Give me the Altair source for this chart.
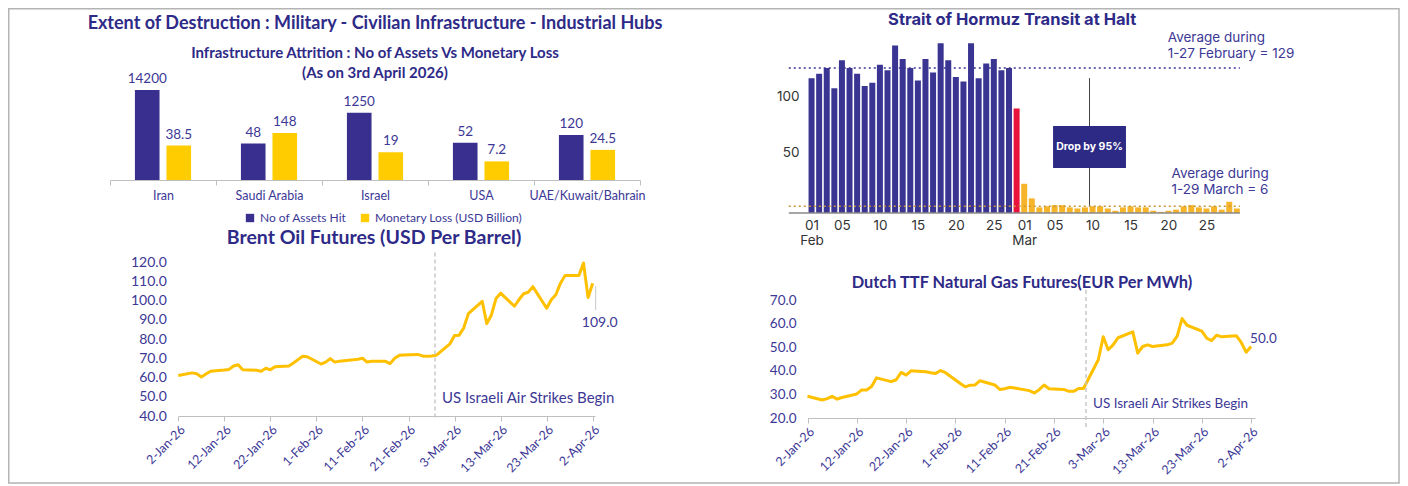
import json
import altair as alt
import pandas as pd

# ---------------- colours / fonts ----------------
NAVY_T = "#2E2A87"
NAVY_L = "#3C3896"
BAR_NAVY = "#382F8F"
YELLOW = "#FFCC00"
LINE_Y = "#FFC000"
H_NAVY = "#3A3592"
H_RED = "#E8143C"
H_ORANGE = "#F6B42A"
FONT_A = "Lato"
FONT_H = "Inter"

# ---------------- data: infrastructure attrition ----------------
countries = ["Iran", "Saudi Arabia", "Israel", "USA", "UAE/Kuwait/Bahrain"]
series_names = ["No of Assets Hit", "Monetary Loss (USD Billion)"]
assets_hit = [14200, 48, 1250, 52, 120]
monetary_loss = [38.5, 148, 19, 7.2, 24.5]
assets_labels = ["14200", "48", "1250", "52", "120"]
loss_labels = ["38.5", "148", "19", "7.2", "24.5"]

# ---------------- data: Brent ----------------
brent_dates = ["2026-01-02", "2026-01-05", "2026-01-06", "2026-01-07", "2026-01-08", "2026-01-09",
               "2026-01-12", "2026-01-13", "2026-01-14", "2026-01-15", "2026-01-16",
               "2026-01-19", "2026-01-20", "2026-01-21", "2026-01-22", "2026-01-23",
               "2026-01-26", "2026-01-27", "2026-01-28", "2026-01-29", "2026-01-30",
               "2026-02-02", "2026-02-03", "2026-02-04", "2026-02-05", "2026-02-06",
               "2026-02-09", "2026-02-10", "2026-02-11", "2026-02-12", "2026-02-13",
               "2026-02-16", "2026-02-17", "2026-02-18", "2026-02-19", "2026-02-20",
               "2026-02-23", "2026-02-24", "2026-02-25", "2026-02-26", "2026-02-27",
               "2026-03-02", "2026-03-03", "2026-03-04", "2026-03-05", "2026-03-06",
               "2026-03-09", "2026-03-10", "2026-03-11", "2026-03-12", "2026-03-13",
               "2026-03-16", "2026-03-17", "2026-03-18", "2026-03-19", "2026-03-20",
               "2026-03-23", "2026-03-24", "2026-03-25", "2026-03-26", "2026-03-27",
               "2026-03-30", "2026-03-31", "2026-04-01", "2026-04-02"]
brent_prices = [61.0, 62.4, 62.0, 60.3, 61.8, 63.3,
                63.9, 64.2, 66.0, 66.6, 64.0,
                63.8, 63.2, 64.8, 64.0, 65.6,
                66.0, 67.5, 69.3, 71.0, 70.8,
                67.0, 68.0, 69.8, 68.0, 68.5,
                69.2, 69.5, 70.0, 68.0, 68.4,
                68.4, 67.2, 70.0, 71.5, 71.7,
                72.0, 71.2, 71.0, 71.2, 71.5,
                77.5, 81.8, 82.0, 85.8, 93.2,
                99.6, 88.0, 92.5, 101.0, 103.8,
                97.0, 100.5, 103.5, 104.3, 107.2,
                96.0, 100.4, 103.0, 109.0, 113.0,
                113.0, 119.5, 101.5, 109.0]
brent_ticks = ["2026-01-02", "2026-01-12", "2026-01-22", "2026-02-01", "2026-02-11",
               "2026-02-21", "2026-03-03", "2026-03-13", "2026-03-23", "2026-04-02"]
brent_y_ticks = [40, 50, 60, 70, 80, 90, 100, 110, 120]
brent_event = "2026-02-26T18:00:00Z"
brent_last_label = "109.0"

# ---------------- data: TTF ----------------
ttf_dates = brent_dates
ttf_prices = [29.2, 27.6, 28.2, 29.2, 28.0, 28.7,
              30.2, 31.9, 31.9, 33.3, 37.0,
              35.4, 36.2, 39.3, 38.2, 40.0,
              39.6, 39.2, 38.9, 40.1, 39.2,
              34.6, 33.2, 33.9, 34.0, 35.8,
              34.0, 32.1, 32.4, 33.0, 32.7,
              31.6, 30.6, 32.0, 34.0, 32.4,
              32.1, 31.3, 31.3, 32.5, 32.5,
              44.7, 54.4, 48.9, 51.0, 54.0,
              56.5, 47.5, 50.3, 51.0, 50.3,
              51.0, 51.7, 54.7, 62.1, 59.3,
              56.8, 53.8, 52.8, 55.1, 54.4,
              54.9, 52.0, 47.9, 50.3]
ttf_y_ticks = [20, 30, 40, 50, 60, 70]
ttf_event = "2026-02-27T12:00:00Z"
ttf_last_label = "50.0"
event_text = "US Israeli Air Strikes Begin"

# ---------------- data: Strait of Hormuz ----------------
feb_transits = [120, 124, 129, 111, 136, 129, 124, 113, 116, 132, 127, 149, 137, 129,
                118, 137, 125, 151, 136, 121, 117, 151, 120, 133, 137, 127, 129]
feb28_transit = [93]
mar_transits = [26, 13, 5, 6, 7, 7, 5, 4, 5, 6, 6, 4, 2, 5, 6, 5, 5, 2, 1, 2, 3,
                6, 7, 5, 4, 6, 3, 10, 4]
period_names = ["1-27 Feb", "28 Feb", "1-29 Mar"]
hormuz_tick_pos = [0, 4, 9, 14, 19, 24, 28, 32, 37, 42, 47, 52]
hormuz_tick_labels = [["01", "Feb"], ["05"], ["10"], ["15"], ["20"], ["25"],
                      ["01", "Mar"], ["05"], ["10"], ["15"], ["20"], ["25"]]
feb_avg = 129
mar_avg = 6
feb_avg_text = "Average during\n1-27 February = 129"
mar_avg_text = "Average during\n1-29 March = 6"
drop_text = "Drop by 95%"


def utc(s):
    t = pd.Timestamp(s)
    return alt.DateTime(year=t.year, month=t.month, date=t.day, hours=t.hour, utc=True)


# =============== Panel A: bar chart (log scale) ===============
dfA = pd.DataFrame({
    "country": countries * 2,
    "series": [series_names[0]] * 5 + [series_names[1]] * 5,
    "value": assets_hit + monetary_loss,
    "label": assets_labels + loss_labels,
})
xA = alt.X("country:N", sort=countries, title=None,
           scale=alt.Scale(paddingInner=0, paddingOuter=0),
           axis=alt.Axis(labelAngle=0, labelFont=FONT_A, labelFontSize=12.5, labelColor=NAVY_L,
                         domainColor="#BFBFBF", tickColor="#BFBFBF", tickBand="extent",
                         tickSize=5, labelPadding=4, labelOverlap=False))
xoA = alt.XOffset("series:N", sort=series_names,
                  scale=alt.Scale(paddingInner=0.22, paddingOuter=0.79))
yA = alt.Y("value:Q", stack=None, axis=None,
           scale=alt.Scale(type="log", domain=[1, 4.8e6], nice=False))
barsA = alt.Chart(dfA).mark_bar().encode(
    x=xA, xOffset=xoA, y=yA,
    color=alt.Color("series:N", sort=series_names,
                    scale=alt.Scale(domain=series_names, range=[BAR_NAVY, YELLOW]),
                    legend=alt.Legend(title=None, orient="none", legendX=134, legendY=177,
                                      direction="horizontal", symbolType="square",
                                      symbolSize=70, symbolStrokeWidth=0,
                                      labelFont=FONT_A, labelFontSize=12,
                                      labelColor=NAVY_L, columnPadding=12)))
labelsA = alt.Chart(dfA).mark_text(baseline="bottom", dy=-4, font=FONT_A, fontSize=13.5,
                                   color=NAVY_L).encode(x=xA, xOffset=xoA, y=yA, text="label:N")
frame = alt.Chart(pd.DataFrame({"k": [0]})).mark_rect(
    fill="transparent", stroke="#B4B4B4", strokeWidth=1.5).encode(
    x=alt.value(-101.25), x2=alt.value(1289), y=alt.value(-26.25), y2=alt.value(448))
A = alt.layer(frame, barsA, labelsA).properties(
    width=530, height=145,
    title=alt.TitleParams(
        text="Extent of Destruction : Military - Civilian Infrastructure - Industrial Hubs",
        subtitle=["Infrastructure Attrition : No of Assets Vs Monetary Loss", "(As on 3rd April 2026)"],
        font=FONT_A, fontSize=18, fontWeight="bold", color=NAVY_T,
        subtitleFont=FONT_A, subtitleFontSize=15, subtitleFontWeight="bold",
        subtitleColor=NAVY_T, subtitlePadding=13, subtitleLineHeight=20,
        anchor="middle", frame="group", offset=-73))


# =============== line panels ===============
def line_panel(dates, prices, ticks, yticks, y_domain, x_end, x_range, y_range, width, height,
               y_offset, label_pad, label_size, ev_size, event, ev_y, ev_text_y, last_label,
               last_dx, last_dy, leader, title, t_size, t_offset, t_dx, xlab_size):
    df = pd.DataFrame({"date": [d + "T00:00:00Z" for d in dates], "price": prices})
    xs = alt.Scale(type="utc", domain=[utc(dates[0]), utc(x_end)], range=x_range)
    if y_range is not None:
        ys = alt.Scale(domain=y_domain, nice=False, zero=False, range=y_range)
    else:
        ys = alt.Scale(domain=y_domain, nice=False, zero=False)
    xax = alt.Axis(values=[utc(t) for t in ticks], format="%-d-%b-%y", labelAngle=-45,
                   labelFont=FONT_A, labelFontSize=xlab_size, labelColor=NAVY_L,
                   domainColor="#BFBFBF", tickColor="#BFBFBF", tickSize=5, grid=False,
                   title=None, labelPadding=2, labelOverlap=False)
    yax = alt.Axis(values=yticks, format=".1f", domain=False, ticks=False, grid=False,
                   offset=y_offset, labelPadding=label_pad, labelFont=FONT_A,
                   labelFontSize=label_size, labelColor=NAVY_L, title=None,
                   labelOverlap=False, tickCount=len(yticks))

    def X(field):
        return alt.X(field, type="temporal", scale=xs, axis=xax)

    def Y(field):
        return alt.Y(field, type="quantitative", scale=ys, axis=yax)

    line = alt.Chart(df).mark_line(color=LINE_Y, strokeWidth=3, strokeJoin="round").encode(
        x=X("date"), y=Y("price"))
    ev = pd.DataFrame({"date": [event], "y1": [ev_y[0]], "y2": [ev_y[1]],
                       "ty": [ev_text_y], "text": [event_text]})
    rule = alt.Chart(ev).mark_rule(color="#C8C8C8", strokeWidth=1.5, strokeDash=[4, 3]).encode(
        x=X("date"), y=Y("y1"), y2="y2:Q")
    evtext = alt.Chart(ev).mark_text(align="left", baseline="middle", dx=7, font=FONT_A,
                                     fontSize=ev_size, color=NAVY_L).encode(
        x=X("date"), y=Y("ty"), text="text:N")
    last = pd.DataFrame({"date": [dates[-1] + "T00:00:00Z"], "price": [prices[-1]],
                         "text": [last_label]})
    lastt = alt.Chart(last).mark_text(align="left" if leader is None else "center",
                                      baseline="middle", dx=last_dx, dy=last_dy, font=FONT_A,
                                      fontSize=label_size, color=NAVY_L).encode(
        x=X("date"), y=Y("price"), text="text:N")
    layers = [line, rule, evtext, lastt]
    if leader is not None:
        ld = pd.DataFrame({"date": [dates[-1] + "T00:00:00Z"], "y1": [leader[0]], "y2": [leader[1]]})
        layers.append(alt.Chart(ld).mark_rule(color="#C8C8C8", strokeWidth=1, xOffset=3).encode(
            x=X("date"), y=Y("y1"), y2="y2:Q"))
    return alt.layer(*layers).properties(
        width=width, height=height,
        title=alt.TitleParams(text=title, font=FONT_A, fontSize=t_size, fontWeight="bold",
                              color=NAVY_T, anchor="middle", frame="group",
                              offset=t_offset, dx=t_dx))


B = line_panel(brent_dates, brent_prices, brent_ticks, brent_y_ticks, [40, 120],
               "2026-04-02T12:00:00", [68.3, 485], None, 485, 154, -68.3, 12, 14, 15,
               brent_event, [125, 38], 49.2, brent_last_label, 7, 40, [107.5, 95],
               "Brent Oil Futures (USD Per Barrel)", 19.5, 3, 21.5, 12.5)

D = line_panel(ttf_dates, ttf_prices, brent_ticks, ttf_y_ticks, [20, 70],
               "2026-04-02T19:00:00", [5.5, 453], [156, 38], 453, 156, -5.5, 11.5, 13.5, 13.5,
               ttf_event, [74.2, 15.8], 25.8, ttf_last_label, -1, -7, None,
               "Dutch TTF Natural Gas Futures(EUR Per MWh)", 16.4, -29, -6.5, 12.5)

# =============== Panel C: Strait of Hormuz ===============
transits = feb_transits + feb28_transit + mar_transits
periods = ([period_names[0]] * len(feb_transits) + [period_names[1]] * len(feb28_transit)
           + [period_names[2]] * len(mar_transits))
dfC = pd.DataFrame({"day": list(range(len(transits))), "transits": transits, "period": periods})
xsC = alt.Scale(domain=[-0.6, 56.6], nice=False, zero=False)
ysC = alt.Scale(domain=[0, 158.4], nice=False)
expr = ""
for p, lab in zip(hormuz_tick_pos, hormuz_tick_labels):
    expr += f"datum.value == {p} ? {json.dumps(lab)} : "
expr += "''"
xaxC = alt.Axis(values=hormuz_tick_pos, labelExpr=expr, domain=False, ticks=False, grid=False,
                labelFont=FONT_H, labelFontSize=13.5, labelColor="#333333", labelPadding=5,
                labelLineHeight=15, labelBaseline="top", title=None, labelAngle=0,
                labelOverlap=False)
yaxC = alt.Axis(values=[50, 100], domain=False, ticks=False, grid=False, labelFont=FONT_H,
                labelFontSize=13.5, labelColor="#333333", labelPadding=3,
                labelBaseline="alphabetic", title=None, labelOverlap=False)


def XC(field):
    return alt.X(field, type="quantitative", scale=xsC, axis=xaxC)


def YC(field):
    return alt.Y(field, type="quantitative", scale=ysC, axis=yaxC)


barsC = alt.Chart(dfC).mark_bar(size=6).encode(
    x=XC("day"), y=YC("transits"),
    color=alt.Color("period:N", scale=alt.Scale(domain=period_names,
                                                range=[H_NAVY, H_RED, H_ORANGE]), legend=None))
lines_df = pd.DataFrame({"x1": [-3.0], "x2": [56.4], "feb": [feb_avg], "mar": [mar_avg], "zero": [0]})
base_rule = alt.Chart(lines_df).mark_rule(color="#8A8A8A", strokeWidth=1.5).encode(
    x=XC("x1"), x2="x2:Q", y=YC("zero"))
feb_rule = alt.Chart(lines_df).mark_rule(color=H_NAVY, strokeWidth=1.6, strokeDash=[2, 3]).encode(
    x=XC("x1"), x2="x2:Q", y=YC("feb"))
mar_rule = alt.Chart(lines_df).mark_rule(color="#C8963A", strokeWidth=1.6, strokeDash=[2, 3]).encode(
    x=XC("x1"), x2="x2:Q", y=YC("mar"))
ann = pd.DataFrame({"x": [46.9, 47.4], "y": [155.7, 34.7], "text": [feb_avg_text, mar_avg_text]})
ann_text = alt.Chart(ann).mark_text(align="left", baseline="middle", lineBreak="\n",
                                    lineHeight=16, font=FONT_H, fontSize=13.5,
                                    color=NAVY_L).encode(
    x=XC("x"), y=YC("y"), text="text:N")
box = pd.DataFrame({"x1": [31.8], "x2": [41.4], "y1": [40.0], "y2": [77.4],
                    "cx": [36.6], "cy": [58.7], "ly1": [120.0], "ly2": [6.5], "text": [drop_text]})
drop_line = alt.Chart(box).mark_rule(color="#444444", strokeWidth=1).encode(
    x=XC("cx"), y=YC("ly1"), y2="ly2:Q")
drop_box = alt.Chart(box).mark_rect(color="#2D2A85").encode(
    x=XC("x1"), x2="x2:Q", y=YC("y1"), y2="y2:Q")
drop_text_m = alt.Chart(box).mark_text(color="white", font=FONT_H, fontSize=10.5,
                                       fontWeight="bold", baseline="middle").encode(
    x=XC("cx"), y=YC("cy"), text="text:N")
C = alt.layer(barsC, base_rule, feb_rule, mar_rule, drop_line, drop_box, drop_text_m,
              ann_text).properties(
    width=444.4, height=178,
    title=alt.TitleParams(text="Strait of Hormuz Transit at Halt", font=FONT_H, fontSize=16.5,
                          fontWeight="bold", color=NAVY_T, anchor="middle", frame="group",
                          offset=3, dx=-12))

chart = alt.concat(A, C, B, D, columns=2, spacing={"row": 49, "column": 162},
                   bounds="flush").resolve_scale(
    color="independent", x="independent", y="independent", xOffset="independent"
).properties(padding=0, background="white").configure_view(stroke=None)

chart.save("out.html", embed_options={"renderer": "svg", "actions": False})
